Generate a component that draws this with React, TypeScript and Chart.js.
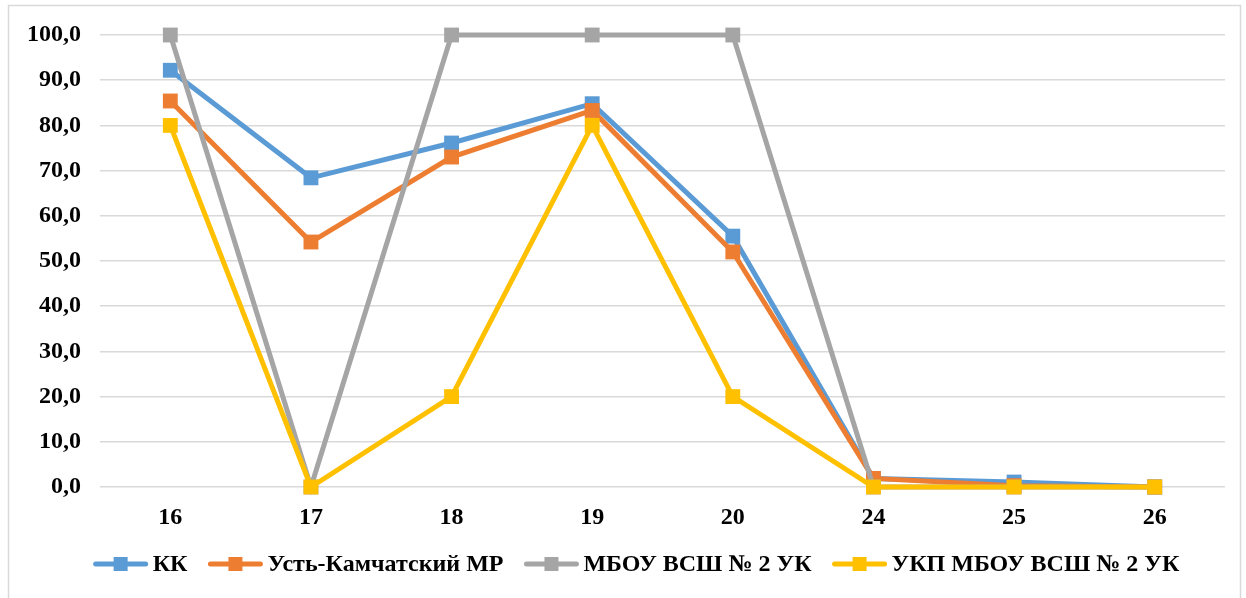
import React, { useEffect, useRef } from "react";
import { Chart, registerables } from "chart.js";

Chart.register(...registerables);

const categories = ["16", "17", "18", "19", "20", "24", "25", "26"];
const seriesKK = [92.2, 68.4, 76.1, 84.8, 55.5, 1.9, 1.1, 0.0];
const seriesUKMR = [85.4, 54.2, 73.0, 83.3, 52.0, 1.9, 0.3, 0.0];
const seriesMBOU = [100, 0, 100, 100, 100, 0, 0, 0];
const seriesUKP = [80, 0, 20, 80, 20, 0, 0, 0];
const seriesNames = ["КК", "Усть-Камчатский МР", "МБОУ ВСШ № 2 УК", "УКП МБОУ ВСШ № 2 УК"];
const seriesColors = ["#5B9BD5", "#ED7D31", "#A5A5A5", "#FFC000"];

const FONT = "'Liberation Serif', 'Times New Roman', serif";

const framePlugin = {
  id: "frameAndLegend",
  afterDraw(chart: any) {
    const ctx = chart.ctx;
    ctx.save();
    ctx.strokeStyle = "#d9d9d9";
    ctx.lineWidth = 1.5;
    ctx.strokeRect(8.5, 5.5, 1232, 700);
    // legend
    ctx.font = `bold 24px ${FONT}`;
    ctx.textBaseline = "middle";
    const markerW = 56;
    const gapText = 4;
    const gapItem = 20;
    const widths = seriesNames.map((n) => ctx.measureText(n).width);
    const total =
      widths.reduce((a, b) => a + b, 0) +
      seriesNames.length * (markerW + gapText) +
      (seriesNames.length - 1) * gapItem;
    let x = 636 - total / 2;
    const y = 564;
    seriesNames.forEach((name, i) => {
      ctx.strokeStyle = seriesColors[i];
      ctx.lineWidth = 5;
      ctx.lineCap = "round";
      ctx.beginPath();
      ctx.moveTo(x + 3, y);
      ctx.lineTo(x + markerW - 3, y);
      ctx.stroke();
      ctx.fillStyle = seriesColors[i];
      ctx.fillRect(x + markerW / 2 - 7, y - 7, 14, 14);
      ctx.fillStyle = "#000";
      ctx.textAlign = "left";
      ctx.fillText(name, x + markerW + gapText, y + 1);
      x += markerW + gapText + widths[i] + gapItem;
    });
    ctx.restore();
  },
};

export default function App() {
  const ref = useRef<HTMLCanvasElement | null>(null);
  useEffect(() => {
    if (!ref.current) return;
    const all = [seriesKK, seriesUKMR, seriesMBOU, seriesUKP];
    const chart = new Chart(ref.current, {
      type: "line",
      data: {
        labels: categories,
        datasets: all.map((d, i) => ({
          label: seriesNames[i],
          data: d,
          borderColor: seriesColors[i],
          backgroundColor: seriesColors[i],
          borderWidth: 5,
          pointStyle: "rect",
          pointRadius: 10.5,
          pointBorderWidth: 0,
          pointBackgroundColor: seriesColors[i],
          tension: 0,
          order: 3 - i,
          clip: false as any,
        })),
      },
      options: {
        responsive: false,
        animation: false,
        layout: { padding: { left: 0, right: 21, top: 35, bottom: 0 } },
        plugins: {
          legend: { display: false },
          tooltip: { enabled: false },
          title: { display: false },
        },
        scales: {
          x: {
            offset: true,
            grid: { display: false, drawTicks: false },
            border: { display: false },
            ticks: {
              color: "#000",
              font: { family: FONT, size: 24, weight: "bold" },
              padding: 16,
            },
            afterFit(scale: any) {
              scale.height = 111;
            },
          },
          y: {
            min: 0,
            max: 100,
            ticks: {
              stepSize: 10,
              color: "#000",
              font: { family: FONT, size: 24, weight: "bold" },
              padding: 19,
              callback: (v: any) => Number(v).toFixed(1).replace(".", ","),
            },
            grid: { color: "#d9d9d9", lineWidth: 1.5, drawTicks: false },
            border: { display: false },
            afterFit(scale: any) {
              scale.width = 100;
            },
          },
        },
      },
      plugins: [framePlugin],
    });
    return () => chart.destroy();
  }, []);
  return (
    <div style={{ position: "fixed", left: 0, top: 0, width: 1246, height: 598, background: "#fff" }}>
      <canvas ref={ref} width={1246} height={598} style={{ width: 1246, height: 598 }} />
    </div>
  );
}
